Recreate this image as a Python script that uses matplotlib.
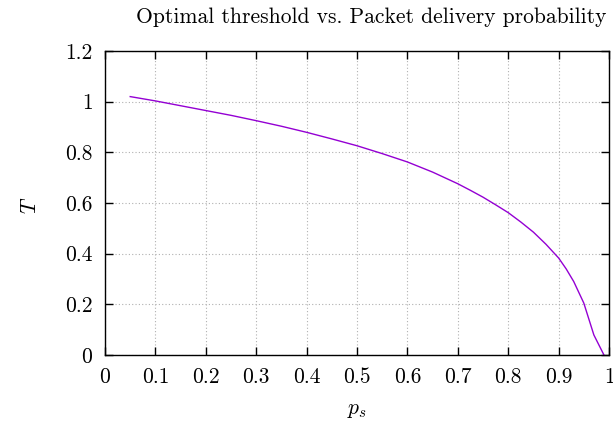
import matplotlib
matplotlib.use('Agg')
import matplotlib.pyplot as plt

plt.rcParams['font.family'] = 'serif'
plt.rcParams['font.serif'] = ['cmr10']
plt.rcParams['mathtext.fontset'] = 'cm'
plt.rcParams['axes.formatter.use_mathtext'] = True

# packet delivery probability and optimal threshold
ps = [0.05, 0.10, 0.15, 0.20, 0.25, 0.30, 0.35, 0.40, 0.45, 0.50,
      0.55, 0.60, 0.65, 0.70, 0.725, 0.75, 0.775, 0.80, 0.825, 0.85,
      0.875, 0.90, 0.915, 0.93, 0.95, 0.97, 0.99]
T = [1.020, 1.003, 0.984, 0.965, 0.946, 0.925, 0.903, 0.879, 0.853, 0.826,
     0.795, 0.762, 0.722, 0.676, 0.650, 0.623, 0.593, 0.562, 0.525, 0.485,
     0.437, 0.383, 0.340, 0.290, 0.205, 0.079, 0.0]

xticks = [0, 0.1, 0.2, 0.3, 0.4, 0.5, 0.6, 0.7, 0.8, 0.9, 1]
xticklabels = ['0', '0.1', '0.2', '0.3', '0.4', '0.5', '0.6', '0.7', '0.8', '0.9', '1']
yticks = [0, 0.2, 0.4, 0.6, 0.8, 1, 1.2]
yticklabels = ['0', '0.2', '0.4', '0.6', '0.8', '1', '1.2']

fig = plt.figure(figsize=(6.13, 4.34), dpi=100)
ax = fig.add_axes([105 / 613, 79 / 434, 504 / 613, 304 / 434])

ax.plot(ps, T, color='#9400D3', linewidth=1.0)

ax.set_xlim(0, 1)
ax.set_ylim(0, 1.2)
ax.set_xticks(xticks)
ax.set_xticklabels(xticklabels)
ax.set_yticks(yticks)
ax.set_yticklabels(yticklabels)
ax.tick_params(direction='in', length=6, width=1, top=True, right=True,
               labelsize=15.5, pad=9)
ax.grid(True, color='#b0b0b0', linestyle=(0, (1, 2)), linewidth=0.8)
for s in ax.spines.values():
    s.set_linewidth(1.0)

fig.text(371 / 613, 1 - 17 / 434, 'Optimal threshold vs. Packet delivery probability',
         ha='center', va='center', fontsize=15.5)
fig.text(30 / 613, 1 - 205 / 434, r'$T$', ha='center', va='center', fontsize=15.5,
         rotation=90)
fig.text(357 / 613, 1 - 410 / 434, r'$p_s$', ha='center', va='center', fontsize=15.5)

fig.savefig('out.png', dpi=100)
